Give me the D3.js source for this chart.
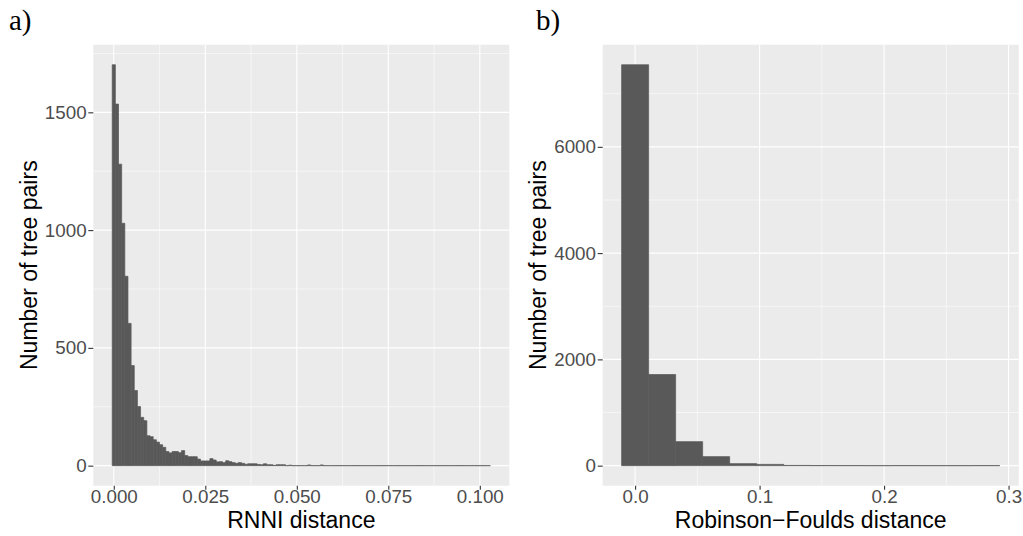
<!DOCTYPE html>
<html>
<head>
<meta charset="utf-8">
<script src="https://d3js.org/d3.v7.min.js"></script>
<style>
  body { margin: 0; background: #fff; }
  svg { display: block; font-family: "Liberation Sans", Arial, sans-serif; }
  .axis text { fill: #4d4d4d; font-size: 18.8px; }
  .axis line { stroke: #333; stroke-width: 1.1; }
  .title { fill: #000; font-size: 23px; }
  .tag { fill: #000; font-size: 29px; font-family: "Liberation Serif", "DejaVu Serif", serif; }
</style>
</head>
<body>
<svg id="chart" width="1023" height="536"></svg>
<script>
// Panel a: RNNI distance, 120 bins, first bin centred on 0
const rnniBinWidth = 0.000861;
const rnniCounts = [
  1702, 1535, 1280, 1029, 804, 604, 425, 319, 251, 205,
  191, 127, 123, 110, 100, 89, 78, 60, 54, 60,
  60, 55, 64, 43, 38, 38, 38, 28, 20, 20,
  20, 30, 24, 16, 17, 13, 21, 17, 13, 10,
  13, 10, 6, 8, 8, 8, 5, 4, 8, 4,
  4, 1, 4, 4, 4, 0, 2, 0, 0, 0,
  0, 0, 3, 0, 0, 0, 3, 0, 0, 0,
  0, 0, 0, 0, 0, 0, 0, 0, 0, 0,
  0, 0, 0, 0, 0, 0, 0, 0, 0, 0,
  0, 0, 0, 0, 0, 0, 0, 0, 0, 0,
  0, 0, 0, 0, 0, 0, 0, 0, 0, 0,
  0, 0, 0, 0, 0, 0, 0, 0, 0, 0
];
const rnniTicksX = [0, 0.025, 0.05, 0.075, 0.1];
const rnniMinorX = [0.0125, 0.0375, 0.0625, 0.0875];
const rnniTicksY = [0, 500, 1000, 1500];
const rnniMinorY = [250, 750, 1250, 1750];

// Panel b: Robinson-Foulds distance, 14 bins
const rfBinWidth = 0.0217;
const rfCounts = [7545, 1715, 452, 170, 38, 24, 4, 2, 1, 0, 1, 0, 0, 1];
const rfTicksX = [0, 0.1, 0.2, 0.3];
const rfMinorX = [0.05, 0.15, 0.25];
const rfTicksY = [0, 2000, 4000, 6000];
const rfMinorY = [1000, 3000, 5000, 7000];

class Histogram {

  constructor(_config, _counts, _binWidth) {
    this.config = {
      parentElement: _config.parentElement,
      left: _config.left,
      top: 44.7,
      width: 416,
      height: 441,
      tag: _config.tag,
      xTitle: _config.xTitle,
      yTitle: _config.yTitle,
      xTicks: _config.xTicks,
      xMinor: _config.xMinor,
      yTicks: _config.yTicks,
      yMinor: _config.yMinor,
      xFormat: _config.xFormat
    }
    this.counts = _counts;
    this.binWidth = _binWidth;
    this.initVis();
  }

  initVis() {
    let vis = this;
    let w = vis.binWidth;
    let n = vis.counts.length;

    vis.bins = vis.counts.map((c, i) => ({x0: (i - 0.5) * w, x1: (i + 0.5) * w, count: c}));

    // ggplot-like 5% expansion on both axes
    let lo = -0.5 * w, hi = (n - 0.5) * w;
    let padX = (hi - lo) * 0.05;
    vis.xScale = d3.scaleLinear()
      .domain([lo - padX, hi + padX])
      .range([0, vis.config.width]);

    let maxY = d3.max(vis.counts);
    vis.yScale = d3.scaleLinear()
      .domain([-0.05 * maxY, 1.05 * maxY])
      .range([vis.config.height, 0]);

    vis.svg = d3.select(vis.config.parentElement);
    vis.chart = vis.svg.append('g')
      .attr('transform', `translate(${vis.config.left}, ${vis.config.top})`);

    vis.renderVis();
  }

  renderVis() {
    let vis = this;
    let W = vis.config.width, H = vis.config.height;

    vis.chart.append('rect')
      .attr('width', W)
      .attr('height', H)
      .attr('fill', '#ebebeb');

    // minor grid
    vis.chart.selectAll('.minor-x')
      .data(vis.config.xMinor)
      .join('line')
      .attr('x1', d => vis.xScale(d)).attr('x2', d => vis.xScale(d))
      .attr('y1', 0).attr('y2', H)
      .attr('stroke', '#fff').attr('stroke-width', 0.55);
    vis.chart.selectAll('.minor-y')
      .data(vis.config.yMinor)
      .join('line')
      .attr('y1', d => vis.yScale(d)).attr('y2', d => vis.yScale(d))
      .attr('x1', 0).attr('x2', W)
      .attr('stroke', '#fff').attr('stroke-width', 0.55);

    // major grid
    vis.chart.selectAll('.major-x')
      .data(vis.config.xTicks)
      .join('line')
      .attr('x1', d => vis.xScale(d)).attr('x2', d => vis.xScale(d))
      .attr('y1', 0).attr('y2', H)
      .attr('stroke', '#fff').attr('stroke-width', 1.1);
    vis.chart.selectAll('.major-y')
      .data(vis.config.yTicks)
      .join('line')
      .attr('y1', d => vis.yScale(d)).attr('y2', d => vis.yScale(d))
      .attr('x1', 0).attr('x2', W)
      .attr('stroke', '#fff').attr('stroke-width', 1.1);

    // bars as paths so empty bins still leave the hairline R draws
    vis.chart.append('g')
      .selectAll('path')
      .data(vis.bins)
      .join('path')
      .attr('d', d => {
        let x0 = vis.xScale(d.x0), x1 = vis.xScale(d.x1);
        let y0 = vis.yScale(0), y1 = vis.yScale(d.count);
        return `M${x0},${y0}H${x1}V${y1}H${x0}Z`;
      })
      .attr('fill', '#595959')
      .attr('stroke', '#595959')
      .attr('stroke-width', 0.7);

    vis.xAxis = d3.axisBottom(vis.xScale)
      .tickValues(vis.config.xTicks)
      .tickFormat(vis.config.xFormat)
      .tickSize(4)
      .tickPadding(0);
    vis.yAxis = d3.axisLeft(vis.yScale)
      .tickValues(vis.config.yTicks)
      .tickFormat(d3.format('d'))
      .tickSize(5)
      .tickPadding(1.7);

    vis.chart.append('g')
      .attr('class', 'axis x-axis')
      .attr('transform', `translate(0, ${H})`)
      .call(vis.xAxis)
      .call(g => g.select('.domain').remove())
      .call(g => g.selectAll('text').attr('font-size', null).attr('font-family', null).attr('fill', null));

    vis.chart.append('g')
      .attr('class', 'axis y-axis')
      .call(vis.yAxis)
      .call(g => g.select('.domain').remove())
      .call(g => g.selectAll('text').attr('font-size', null).attr('font-family', null).attr('fill', null));

    vis.chart.append('text')
      .attr('class', 'title')
      .attr('x', W / 2)
      .attr('y', H + 42.6)
      .attr('text-anchor', 'middle')
      .text(vis.config.xTitle);

    vis.chart.append('text')
      .attr('class', 'title')
      .attr('transform', `translate(-56.7, ${H / 2}) rotate(-90)`)
      .attr('text-anchor', 'middle')
      .text(vis.config.yTitle);

    vis.svg.append('text')
      .attr('class', 'tag')
      .attr('x', vis.config.tag.x)
      .attr('y', 30)
      .text(vis.config.tag.label);
  }
}

new Histogram({
  parentElement: '#chart',
  left: 93.3,
  tag: {label: 'a)', x: 9},
  xTitle: 'RNNI distance',
  yTitle: 'Number of tree pairs',
  xTicks: rnniTicksX, xMinor: rnniMinorX,
  yTicks: rnniTicksY, yMinor: rnniMinorY,
  xFormat: d3.format('.3f')
}, rnniCounts, rnniBinWidth);

new Histogram({
  parentElement: '#chart',
  left: 602.7,
  tag: {label: 'b)', x: 536},
  xTitle: 'Robinson\u2212Foulds distance',
  yTitle: 'Number of tree pairs',
  xTicks: rfTicksX, xMinor: rfMinorX,
  yTicks: rfTicksY, yMinor: rfMinorY,
  xFormat: d3.format('.1f')
}, rfCounts, rfBinWidth);
</script>
</body>
</html>
